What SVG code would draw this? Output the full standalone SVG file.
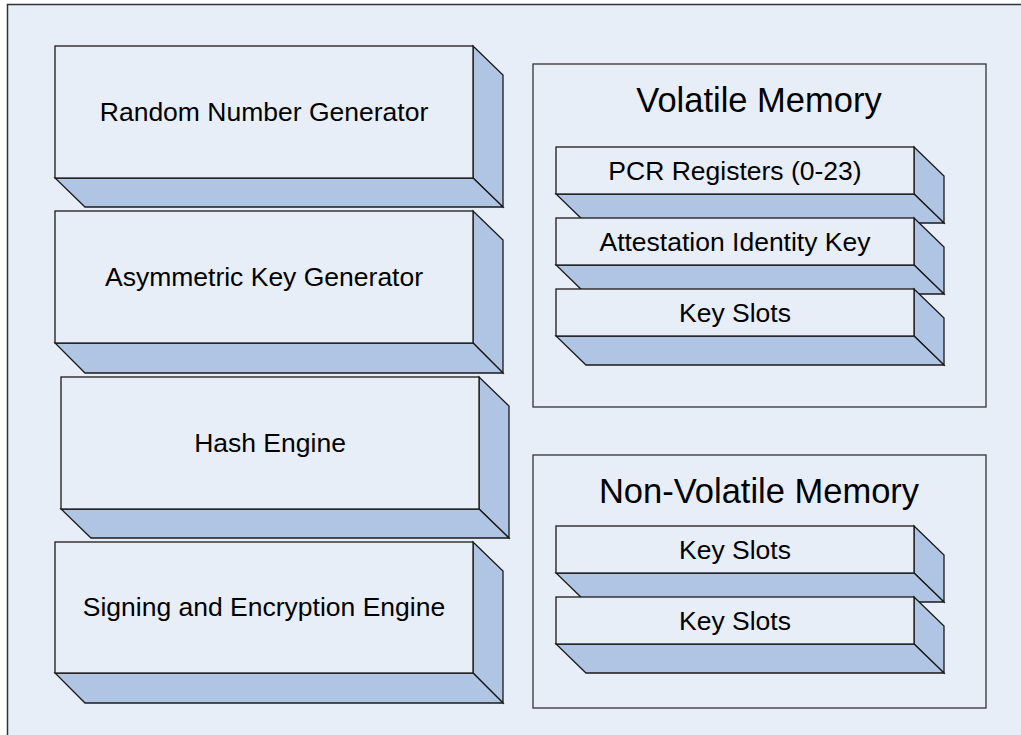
<svg xmlns="http://www.w3.org/2000/svg" width="1021" height="735" viewBox="0 0 1021 735">
<style>
.face{fill:#e8eef8;stroke:#1a1a1a;stroke-width:1.3}
.side{fill:#b0c4e3;stroke:#1a1a1a;stroke-width:1.3;stroke-linejoin:miter}
.box{fill:#e8eef8;stroke:#333;stroke-width:1.3}
.lbl{font-family:"Liberation Sans",Arial,sans-serif;font-size:26.5px;fill:#000;text-anchor:middle}
.ttl{font-family:"Liberation Sans",Arial,sans-serif;font-size:34.5px;fill:#000;text-anchor:middle}
</style>
<rect x="0" y="0" width="1021" height="735" fill="#ffffff"/>
<rect id="frame" x="7.5" y="4.5" width="1030" height="740" fill="#e8eef8" stroke="#333" stroke-width="1.5"/>

<g id="rng">
<polygon class="side" points="473,46 503,75 503,207 473,178"/>
<polygon class="side" points="55,178 473,178 503,207 85,207"/>
<rect class="face" x="55" y="46" width="418" height="132"/>
<text class="lbl" x="264" y="121">Random Number Generator</text>
</g>

<g id="akg">
<polygon class="side" points="473,211 503,240 503,373 473,343"/>
<polygon class="side" points="55,343 473,343 503,373 85,373"/>
<rect class="face" x="55" y="211" width="418" height="132"/>
<text class="lbl" x="264" y="286">Asymmetric Key Generator</text>
</g>

<g id="hash">
<polygon class="side" points="479,377 509,406 509,538 479,509"/>
<polygon class="side" points="61,509 479,509 509,538 91,538"/>
<rect class="face" x="61" y="377" width="418" height="132"/>
<text class="lbl" x="270" y="452">Hash Engine</text>
</g>

<g id="sign">
<polygon class="side" points="473,542 503,571 503,703 473,673"/>
<polygon class="side" points="55,673 473,673 503,703 85,703"/>
<rect class="face" x="55" y="542" width="418" height="131"/>
<text class="lbl" x="264" y="616">Signing and Encryption Engine</text>
</g>

<g id="volatile">
<rect class="box" x="533" y="64" width="453" height="343"/>
<text class="ttl" x="759" y="112">Volatile Memory</text>
</g>

<g id="pcr">
<polygon class="side" points="914,147 944,176 944,223 914,194"/>
<polygon class="side" points="556,194 914,194 944,223 586,223"/>
<rect class="face" x="556" y="147" width="358" height="47"/>
<text class="lbl" x="735" y="180">PCR Registers (0-23)</text>
</g>

<g id="aik">
<polygon class="side" points="914,218 944,247 944,294 914,265"/>
<polygon class="side" points="556,265 914,265 944,294 586,294"/>
<rect class="face" x="556" y="218" width="358" height="47"/>
<text class="lbl" x="735" y="251">Attestation Identity Key</text>
</g>

<g id="vkeyslots">
<polygon class="side" points="914,289 944,318 944,365 914,336"/>
<polygon class="side" points="556,336 914,336 944,365 586,365"/>
<rect class="face" x="556" y="289" width="358" height="47"/>
<text class="lbl" x="735" y="322">Key Slots</text>
</g>

<g id="nonvolatile">
<rect class="box" x="533" y="455" width="453" height="253"/>
<text class="ttl" x="759" y="503">Non-Volatile Memory</text>
</g>

<g id="nvkeyslots1">
<polygon class="side" points="914,526 944,555 944,602 914,573"/>
<polygon class="side" points="556,573 914,573 944,602 586,602"/>
<rect class="face" x="556" y="526" width="358" height="47"/>
<text class="lbl" x="735" y="559">Key Slots</text>
</g>

<g id="nvkeyslots2">
<polygon class="side" points="914,597 944,626 944,673 914,644"/>
<polygon class="side" points="556,644 914,644 944,673 586,673"/>
<rect class="face" x="556" y="597" width="358" height="47"/>
<text class="lbl" x="735" y="630">Key Slots</text>
</g>

<g id="connectors"></g>
</svg>
